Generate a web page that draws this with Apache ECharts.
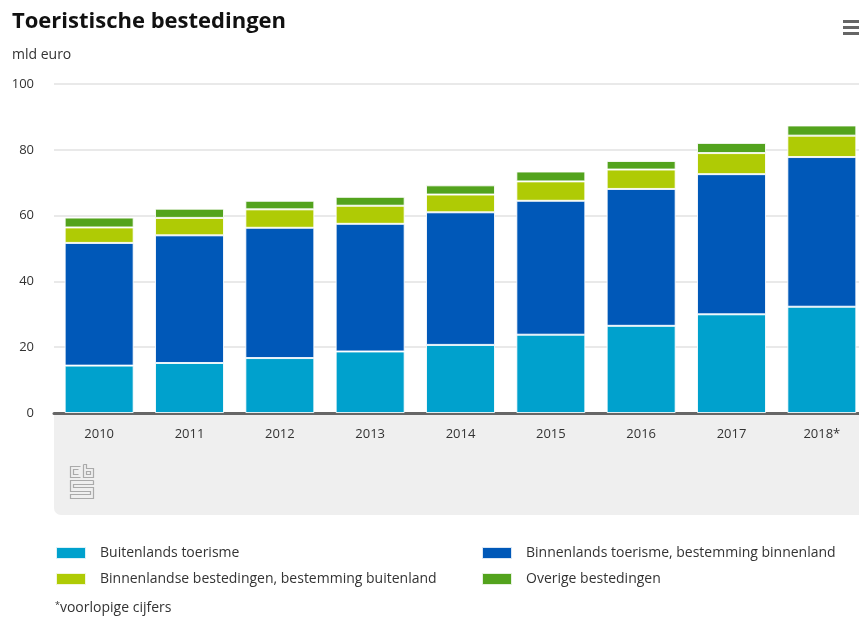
<!DOCTYPE html>
<html><head><meta charset="utf-8">
<script src="https://cdn.jsdelivr.net/npm/echarts@6/dist/echarts.min.js"></script>
<style>html,body{margin:0;padding:0;background:#fff}#c{width:859px;height:618px}</style>
</head><body><div id="c"></div>
<script>
const categories = ['2010','2011','2012','2013','2014','2015','2016','2017','2018*'];
const buitenlandsToerisme = [14.4, 15.2, 16.7, 18.7, 20.7, 23.8, 26.5, 30.0, 32.3];
const binnenlandsToerisme = [37.3, 38.8, 39.6, 38.8, 40.3, 40.7, 41.6, 42.6, 45.5];
const bestemmingBuitenland = [4.7, 5.3, 5.6, 5.5, 5.4, 5.9, 5.9, 6.4, 6.5];
const overigeBestedingen = [3.0, 2.8, 2.6, 2.7, 2.8, 3.0, 2.6, 3.1, 3.1];
const seriesNames = ['Buitenlands toerisme','Binnenlands toerisme, bestemming binnenland','Binnenlandse bestedingen, bestemming buitenland','Overige bestedingen'];
const colors = ['#00a1cd','#0058b8','#afcb05','#53a31d'];

const FONT = '"Open Sans", "Noto Sans", sans-serif';
const chart = echarts.init(document.getElementById('c'));
const mk = (i, data) => ({
  name: seriesNames[i], type: 'bar', stack: 'total', data: data, barWidth: 69,
  itemStyle: {color: colors[i], borderColor: 'rgba(255,255,255,0.85)', borderWidth: 1},
  emphasis: {disabled: true}
});
const logo = {
  type: 'group', left: 68, top: 462, children: [
    {type:'polyline', shape:{points:[[11,2],[1,2],[1,13],[11,13]]}, style:{fill:null, stroke:'#aaa', lineWidth:1.2}},
    {type:'polyline', shape:{points:[[9,5],[4,5],[4,10],[9,10]]}, style:{fill:null, stroke:'#aaa', lineWidth:1.2}},
    {type:'polyline', shape:{points:[[14,0],[14,13],[24,13],[24,4],[17,4],[17,0],[14,0]]}, style:{fill:null, stroke:'#aaa', lineWidth:1.2}},
    {type:'rect', shape:{x:17,y:7,width:4,height:3}, style:{fill:null, stroke:'#aaa', lineWidth:1.2}},
    {type:'polyline', shape:{points:[[24,16],[1,16],[1,27],[21,27],[21,30],[1,30],[1,34],[24,34],[24,23],[4,23],[4,20],[24,20],[24,16]]}, style:{fill:null, stroke:'#aaa', lineWidth:1.2}}
  ]
};
const legendBase = {orient: 'vertical', top: 546, padding: 0, itemWidth: 30, itemHeight: 12, itemGap: 12,
  icon: 'rect', selectedMode: false, textStyle: {fontFamily: FONT, fontSize: 14, color: '#333', padding: [0,0,0,9]}};
chart.setOption({
  animation: false,
  textStyle: {fontFamily: FONT},
  title: [
    {text: 'Toeristische bestedingen', left: 12, top: 11, padding: 0, textStyle: {fontFamily: FONT, fontSize: 22, fontWeight: 'bold', color: '#111'}},
    {text: 'mld euro', left: 12, top: 48, padding: 0, textStyle: {fontFamily: FONT, fontSize: 14, fontWeight: 'normal', color: '#333'}},
    {text: '{s|*}voorlopige cijfers', left: 55, top: 601, padding: 0, textStyle: {fontFamily: FONT, fontSize: 14, fontWeight: 'normal', color: '#333', rich: {s: {fontSize: 9, verticalAlign: 'top', padding:[0,0,6,0], fontFamily: FONT, color:'#333'}}}}
  ],
  graphic: [
    {type: 'rect', shape: {x: 54, y: 414, width: 820, height: 101, r: [0,0,0,7]}, style: {fill: '#efefef'}, z: -10},
    logo,
    {type: 'rect', shape: {x: 843, y: 20, width: 16, height: 3}, style: {fill: '#666'}},
    {type: 'rect', shape: {x: 843, y: 26, width: 16, height: 3}, style: {fill: '#666'}},
    {type: 'rect', shape: {x: 843, y: 32, width: 16, height: 3}, style: {fill: '#666'}}
  ],
  legend: [
    Object.assign({}, legendBase, {data: [seriesNames[0], seriesNames[2]], left: 55}),
    Object.assign({}, legendBase, {data: [seriesNames[1], seriesNames[3]], left: 481})
  ],
  grid: {left: 54, width: 813, top: 84, height: 329, containLabel: false, outerBoundsMode: 'none'},
  xAxis: {
    type: 'category', data: categories,
    axisLine: {show: true, lineStyle: {color: '#666', width: 3}},
    axisTick: {show: false},
    axisLabel: {margin: 15, fontFamily: FONT, fontSize: 13, color: '#333'}
  },
  yAxis: {
    type: 'value', min: 0, max: 100, interval: 20,
    axisLine: {show: false}, axisTick: {show: false},
    axisLabel: {margin: 20, fontFamily: FONT, fontSize: 13, color: '#333'},
    splitLine: {lineStyle: {color: '#e2e2e2', width: 1.5}}
  },
  series: [mk(0, buitenlandsToerisme), mk(1, binnenlandsToerisme), mk(2, bestemmingBuitenland), mk(3, overigeBestedingen)]
});
</script></body></html>
